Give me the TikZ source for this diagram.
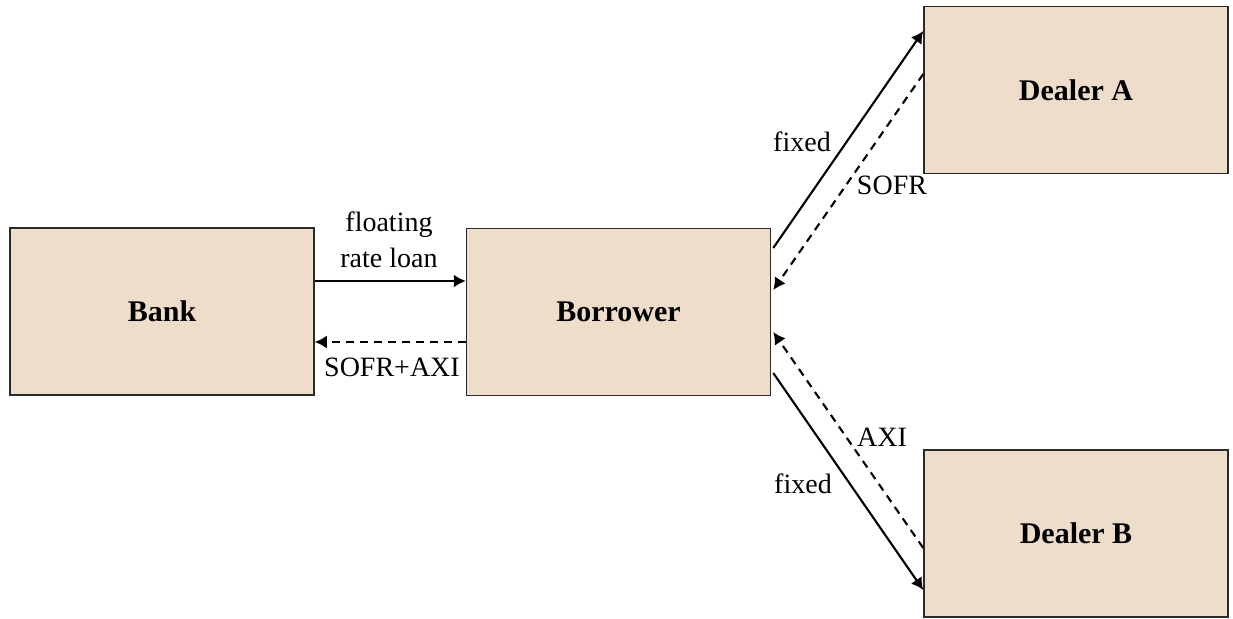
\documentclass[tikz,border=0pt]{standalone}
\usepackage{fontspec}
\setmainfont{Liberation Serif}
\usetikzlibrary{arrows.meta,calc}
\definecolor{boxfill}{HTML}{EEDDCA}
\definecolor{boxline}{HTML}{2A2A2A}
\tikzset{
  party/.style={draw=boxline, line width=0.75pt, fill=boxfill, minimum width=152pt, minimum height=83.5pt, inner sep=0pt, font=\fontsize{15}{18}\selectfont\bfseries},
  flow/.style={line width=1.05pt, -{Latex[length=6pt,width=6.5pt]}},
  dflow/.style={flow, dash pattern=on 4pt off 3pt},
  lbl/.style={font=\fontsize{14}{17}\selectfont, inner sep=0pt, anchor=base}
}
\begin{document}
\begin{tikzpicture}[x=0.5pt,y=-0.5pt]
\useasboundingbox (0,0) rectangle (1233,619);
\node[party] (bank) at (162,311.5) {Bank};
\node[party] (borrower) at (618.5,312) {Borrower};
\node[party] (dealerA) at (1076,90) {Dealer A};
\node[party] (dealerB) at (1076,533.5) {Dealer B};

\draw[flow] ($(bank.east)+(0,-30.5)$) -- ($(borrower.west)+(0,-31)$);
\draw[dflow] ($(borrower.west)+(0,30)$) -- ($(bank.east)+(0,30.5)$);

\draw[flow] ($(borrower.east)+(2,-64)$) -- ($(dealerA.west)+(0,-59)$);
\draw[dflow] ($(dealerA.west)+(0,-16)$) -- ($(borrower.east)+(2,-22)$);
\draw[dflow] ($(dealerB.west)+(0,14.5)$) -- ($(borrower.east)+(2,20)$);
\draw[flow] ($(borrower.east)+(2,61)$) -- ($(dealerB.west)+(0,56.5)$);

\node[lbl] (lfloat) at (389,232) {floating};
\node[lbl] (lrate) at (389,268) {rate loan};
\node[lbl] (lsofraxi) at (392,377) {SOFR+AXI};
\node[lbl] (lfixA) at (802,152) {fixed};
\node[lbl] (lsofr) at (892,195) {SOFR};
\node[lbl] (laxi) at (882,447) {AXI};
\node[lbl] (lfixB) at (803,494) {fixed};
\end{tikzpicture}
\end{document}
